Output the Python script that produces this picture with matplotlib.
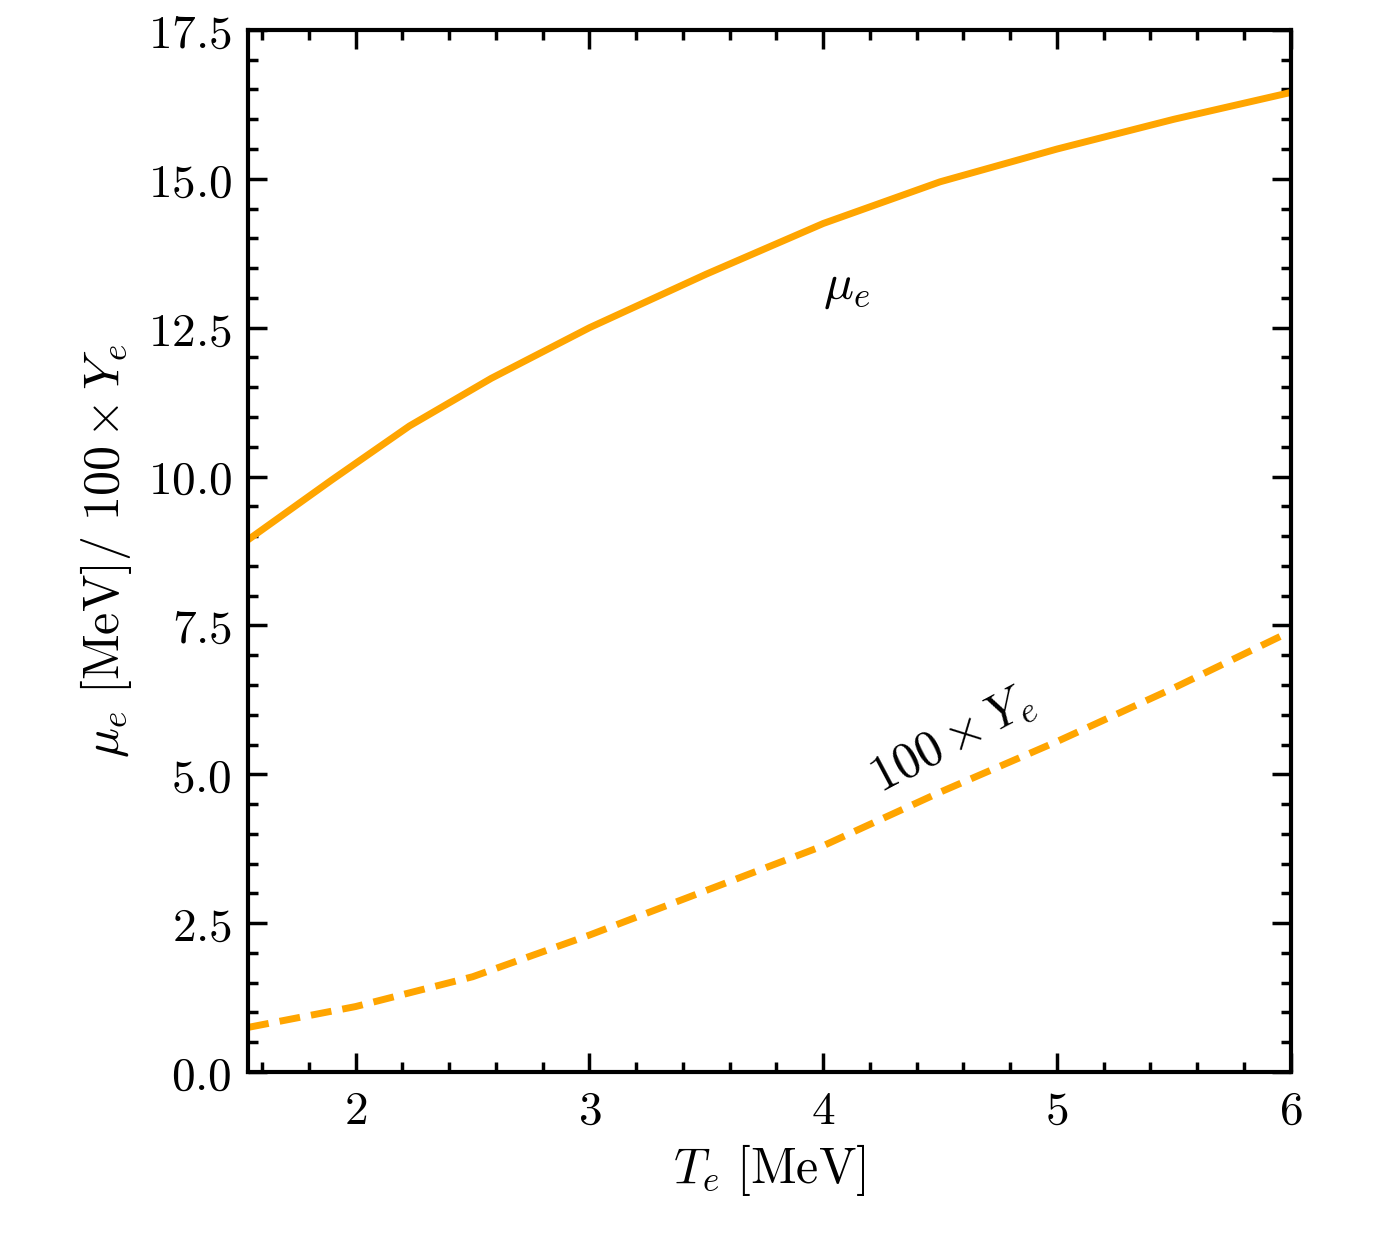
import matplotlib
matplotlib.use("Agg")
import matplotlib.pyplot as plt
from matplotlib.ticker import MultipleLocator

plt.rcParams["mathtext.fontset"] = "cm"
plt.rcParams["font.family"] = "serif"
plt.rcParams["font.serif"] = ["DejaVu Serif"]

T = [1.54, 1.9, 2.23, 2.58, 3.0, 3.5, 4.0, 4.5, 5.0, 5.5, 6.0]
mu = [8.94, 9.95, 10.85, 11.65, 12.5, 13.4, 14.25, 14.95, 15.5, 16.0, 16.45]
T2 = [1.54, 2.0, 2.5, 3.0, 3.5, 4.0, 4.5, 5.0, 5.5, 6.0]
Ye100 = [0.75, 1.1, 1.6, 2.3, 3.05, 3.8, 4.7, 5.55, 6.45, 7.4]

fig = plt.figure(figsize=(13.79, 12.48), dpi=100)
ax = fig.add_axes([0.18, 0.141, 0.756, 0.835])
c = "#FFA500"
ax.plot(T, mu, color=c, lw=5)
ax.plot(T2, Ye100, color=c, lw=5, ls=(0, (3, 1.6)))
ax.set_xlim(1.54, 6)
ax.set_ylim(0, 17.5)
ax.xaxis.set_major_locator(MultipleLocator(1))
ax.xaxis.set_minor_locator(MultipleLocator(0.2))
ax.yaxis.set_major_locator(MultipleLocator(2.5))
ax.yaxis.set_minor_locator(MultipleLocator(0.5))
ax.yaxis.set_major_formatter(matplotlib.ticker.FormatStrFormatter("$%.1f$"))
ax.xaxis.set_major_formatter(matplotlib.ticker.FuncFormatter(lambda v, p: f"${int(round(v))}$"))
ax.tick_params(which="both", direction="in", top=True, right=True, width=2.5)
ax.tick_params(which="major", length=14, labelsize=34, pad=12)
ax.tick_params(which="minor", length=7)
for s in ax.spines.values():
    s.set_linewidth(3)
ax.set_xlabel(r"$T_e\ [\mathrm{MeV}]$", fontsize=36, labelpad=6)
ax.set_ylabel(r"$\mu_e\ [\mathrm{MeV}]/\ 100\times Y_e$", fontsize=36, labelpad=10)
ax.text(4.0, 13.2, r"$\mu_e$", fontsize=36, ha="left", va="center")
ax.text(4.55, 5.6, r"$100\times Y_e$", fontsize=36, ha="center", va="center", rotation=28)
fig.savefig("out.png", dpi=100)
